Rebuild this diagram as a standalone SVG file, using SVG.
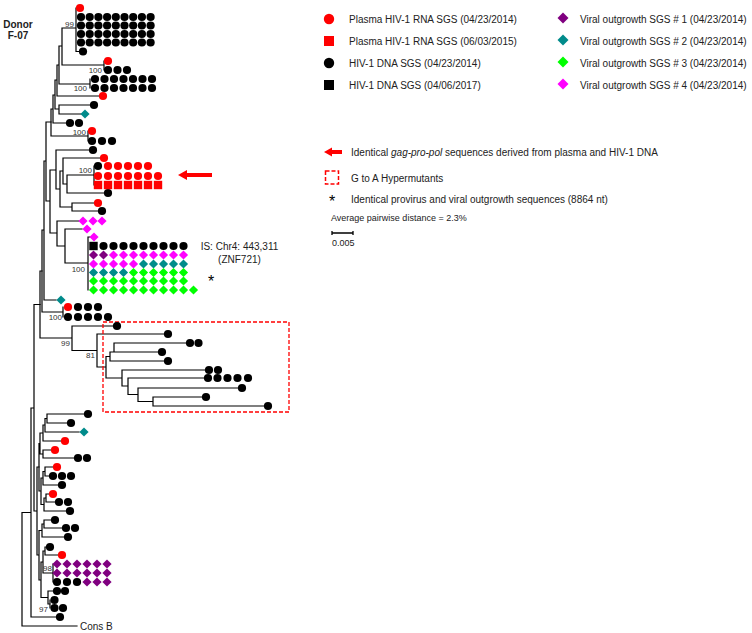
<svg xmlns="http://www.w3.org/2000/svg" width="752" height="633" viewBox="0 0 752 633">
<style>
.br{stroke:#000;stroke-width:1.2;fill:none;stroke-linecap:square}
.bs{font-family:"Liberation Sans",Arial,sans-serif;font-size:8px;fill:#333;text-anchor:end}
.lg{font-family:"Liberation Sans",Arial,sans-serif;font-size:10px;fill:#222}
.sm{font-family:"Liberation Sans",Arial,sans-serif;font-size:9px;fill:#222}
.ast{font-family:"Liberation Sans",Arial,sans-serif;font-size:16px;fill:#000;text-anchor:middle}
.dn{font-family:"Liberation Sans",Arial,sans-serif;font-size:10px;font-weight:bold;fill:#222;text-anchor:middle}
</style>
<defs>
<circle id="cR" r="4.1" fill="#ff0000"/>
<circle id="cK" r="4.1" fill="#000000"/>
<rect id="sR" x="-4.2" y="-4.2" width="8.4" height="8.4" fill="#ff0000"/>
<rect id="sK" x="-4.2" y="-4.2" width="8.4" height="8.4" fill="#000000"/>
<path id="dP" d="M0,-4.6L4.6,0L0,4.6L-4.6,0Z" fill="#800080"/>
<path id="dT" d="M0,-4.6L4.6,0L0,4.6L-4.6,0Z" fill="#008b8b"/>
<path id="dG" d="M0,-4.6L4.6,0L0,4.6L-4.6,0Z" fill="#00ff00"/>
<path id="dM" d="M0,-4.6L4.6,0L0,4.6L-4.6,0Z" fill="#ff00ff"/>
</defs>
<rect width="752" height="633" fill="#fff"/>

<g id="title">
<text class="dn" x="18" y="28">Donor</text>
<text class="dn" x="18" y="39">F-07</text>
</g>

<g id="branches" class="br">
<path d="M76,8V51.5M76,51.5H79M62,28H76M62,28V65M62,65H104M104,61V70M90,79V88M59,46H62M59,46V84M59,84H90M57,65H59M57,65V96M57,96H99M59,105V114M59,105H90M59,114H81M55,80H57M55,80V109M55,109H59M53,95H55M53,95V123M53,123H66M88,131V141M51,109H53M51,109V136M51,136H88"/>
<path d="M94,166V185M67,175H94M67,175V193M67,193H104M63,158H100M63,158V184M63,184H67M72,203H94M72,203V211M72,211H98M60,171H63M60,171V207M60,207H72M56,150H89M56,150V189M56,189H60M88,237H90M88,237V290M65,229H82M65,229V263M65,263H88M57,221H79M57,221V246M57,246H65M50,170H56M50,170V233M50,233H57M46,122H51M46,122V201M46,201H50M44,161H46M44,161V300M44,300H56M63,307V317M42,230H44M42,230V312M42,312H63"/>
<path d="M72,326H113M72,326V350.5M72,350.5H97M97,334H164M97,334V367M97,367H106M106,356.5H110M106,356.5V378M106,378H122M110,352H114M110,352V361M110,361H164M114,343H186M114,343V352M114,352H158M122,370H205M122,370V386M122,386H128M128,378H204M128,378V394.5M128,394.5H138M138,388H238M138,388V401.5M138,401.5H153M153,397H202M153,397V406M153,406H264M40,271H42M40,271V338M40,338H72"/>
<path d="M47,414H84M47,414V423M47,423H67M45,418.5H47M45,418.5V432M45,432H79M43,425H45M43,425V441M43,441H61M43,450H51M43,450V458M43,458H74M40,433H43M40,433V454M40,454H43M45,467H53M45,467V476M45,476H49M43,471.5H45M43,471.5V485M43,485H58M46,494H49M46,494V502M46,502H55M44,498H46M44,498V511M44,511H66M41,478H43M41,478V504.5M41,504.5H44M39,443.5H40M39,443.5V491M39,491H41"/>
<path d="M44,520H51M44,520V528M44,528H62M42,524H44M42,524V537M42,537H64M45,547H46M45,547V555M45,555H58M53,564V582M43,551H45M43,551V573M43,573H53M50,600V608M48,591H53M48,591V604M48,604H50M41,562H43M41,562V597.5M41,597.5H48M39,530.5H42M39,530.5V580M39,580H41M37,467H39M37,467V555M37,555H39M34,304.5H40M34,304.5V511M34,511H37M31,408H34M31,408V617M31,617H56M22,512.5H31M22,512.5V626M22,626H77"/>
</g>

<g id="bootstrap">
<text class="bs" x="74" y="27">99</text>
<text class="bs" x="102" y="73">100</text>
<text class="bs" x="87" y="91">100</text>
<text class="bs" x="86" y="135">100</text>
<text class="bs" x="92" y="173">100</text>
<text class="bs" x="85" y="272">100</text>
<text class="bs" x="62" y="320">100</text>
<text class="bs" x="70" y="346">99</text>
<text class="bs" x="95" y="358">81</text>
<text class="bs" x="52" y="571">98</text>
<text class="bs" x="48" y="612">97</text>
</g>

<g id="clade-top">
<use href="#cR" x="80" y="8"/>
<use href="#cK" x="81" y="17"/><use href="#cK" x="89.7" y="17"/><use href="#cK" x="98.4" y="17"/><use href="#cK" x="107.1" y="17"/><use href="#cK" x="115.8" y="17"/><use href="#cK" x="124.5" y="17"/><use href="#cK" x="133.2" y="17"/><use href="#cK" x="141.9" y="17"/><use href="#cK" x="150.6" y="17"/>
<use href="#cK" x="81" y="25.5"/><use href="#cK" x="89.7" y="25.5"/><use href="#cK" x="98.4" y="25.5"/><use href="#cK" x="107.1" y="25.5"/><use href="#cK" x="115.8" y="25.5"/><use href="#cK" x="124.5" y="25.5"/><use href="#cK" x="133.2" y="25.5"/><use href="#cK" x="141.9" y="25.5"/><use href="#cK" x="150.6" y="25.5"/>
<use href="#cK" x="81" y="34"/><use href="#cK" x="89.7" y="34"/><use href="#cK" x="98.4" y="34"/><use href="#cK" x="107.1" y="34"/><use href="#cK" x="115.8" y="34"/><use href="#cK" x="124.5" y="34"/><use href="#cK" x="133.2" y="34"/><use href="#cK" x="141.9" y="34"/><use href="#cK" x="150.6" y="34"/>
<use href="#cK" x="81" y="42.5"/><use href="#cK" x="89.7" y="42.5"/><use href="#cK" x="98.4" y="42.5"/><use href="#cK" x="107.1" y="42.5"/><use href="#cK" x="115.8" y="42.5"/><use href="#cK" x="124.5" y="42.5"/><use href="#cK" x="133.2" y="42.5"/><use href="#cK" x="141.9" y="42.5"/><use href="#cK" x="150.6" y="42.5"/>
<use href="#cK" x="83" y="51.5"/>
</g>

<g id="clade-100a">
<use href="#cR" x="108" y="61"/>
<use href="#cK" x="108" y="70"/><use href="#cK" x="117.5" y="70"/><use href="#cK" x="127" y="70"/>
</g>

<g id="clade-100b">
<use href="#cK" x="95" y="79"/><use href="#cK" x="104.5" y="79"/><use href="#cK" x="114" y="79"/><use href="#cK" x="123.5" y="79"/><use href="#cK" x="133" y="79"/><use href="#cK" x="142.5" y="79"/><use href="#cK" x="152" y="79"/>
<use href="#cK" x="95" y="88"/><use href="#cK" x="104.5" y="88"/><use href="#cK" x="114" y="88"/><use href="#cK" x="123.5" y="88"/><use href="#cK" x="133" y="88"/><use href="#cK" x="142.5" y="88"/><use href="#cK" x="152" y="88"/>
</g>

<g id="leaves-upper">
<use href="#cR" x="103" y="96"/>
<use href="#cK" x="94" y="105"/>
<use href="#dT" x="85" y="114"/>
<use href="#cK" x="70" y="123"/><use href="#cK" x="79" y="123"/>
</g>

<g id="clade-100c">
<use href="#cR" x="92" y="131"/>
<use href="#cK" x="92" y="141"/><use href="#cK" x="102" y="141"/><use href="#cK" x="112" y="141"/>
</g>

<g id="leaves-mid">
<use href="#cK" x="93" y="150"/>
<use href="#cR" x="104" y="158"/>
<use href="#cK" x="108" y="193"/>
<use href="#cR" x="98" y="203"/>
<use href="#cK" x="102" y="211"/>
<use href="#dM" x="83" y="221"/><use href="#dM" x="93" y="221"/><use href="#dM" x="102" y="221"/>
<use href="#dM" x="87" y="229"/>
<use href="#dT" x="61" y="300"/>
</g>

<g id="clade-plasma">
<use href="#cK" x="98" y="166"/><use href="#cR" x="108" y="166"/><use href="#cR" x="118" y="166"/><use href="#cR" x="128" y="166"/><use href="#cR" x="138" y="166"/><use href="#cR" x="148" y="166"/>
<use href="#cR" x="98" y="176"/><use href="#cR" x="108" y="176"/><use href="#cR" x="118" y="176"/><use href="#cR" x="128" y="176"/><use href="#cR" x="138" y="176"/><use href="#cR" x="148" y="176"/><use href="#cR" x="158" y="176"/>
<use href="#sR" x="98" y="185"/><use href="#sR" x="108" y="185"/><use href="#sR" x="118" y="185"/><use href="#sR" x="128" y="185"/><use href="#sR" x="138" y="185"/><use href="#sR" x="148" y="185"/><use href="#sR" x="158" y="185"/>
</g>

<g id="arrow-tree">
<polygon points="178,175 187,170 187,180" fill="#ff0000"/>
<rect x="185" y="173" width="27" height="4" fill="#ff0000"/>
</g>

<g id="clade-IS">
<use href="#dM" x="94" y="237"/>
<use href="#sK" x="93.5" y="246"/><use href="#cK" x="103.5" y="246"/><use href="#cK" x="113.5" y="246"/><use href="#cK" x="123.5" y="246"/><use href="#cK" x="133.5" y="246"/><use href="#cK" x="143.5" y="246"/><use href="#cK" x="153.5" y="246"/><use href="#cK" x="163.5" y="246"/><use href="#cK" x="173.5" y="246"/><use href="#cK" x="183.5" y="246"/>
<use href="#dP" x="93.5" y="255"/><use href="#dP" x="103.5" y="255"/><use href="#dM" x="113.5" y="255"/><use href="#dM" x="123.5" y="255"/><use href="#dM" x="133.5" y="255"/><use href="#dM" x="143.5" y="255"/><use href="#dM" x="153.5" y="255"/><use href="#dM" x="163.5" y="255"/><use href="#dM" x="173.5" y="255"/><use href="#dM" x="183.5" y="255"/>
<use href="#dM" x="93.5" y="264"/><use href="#dM" x="103.5" y="264"/><use href="#dM" x="113.5" y="264"/><use href="#dM" x="123.5" y="264"/><use href="#dM" x="133.5" y="264"/><use href="#dT" x="143.5" y="264"/><use href="#dT" x="153.5" y="264"/><use href="#dT" x="163.5" y="264"/><use href="#dT" x="173.5" y="264"/><use href="#dT" x="183.5" y="264"/>
<use href="#dT" x="93.5" y="272.5"/><use href="#dT" x="103.5" y="272.5"/><use href="#dT" x="113.5" y="272.5"/><use href="#dT" x="123.5" y="272.5"/><use href="#dG" x="133.5" y="272.5"/><use href="#dG" x="143.5" y="272.5"/><use href="#dG" x="153.5" y="272.5"/><use href="#dG" x="163.5" y="272.5"/><use href="#dG" x="173.5" y="272.5"/><use href="#dG" x="183.5" y="272.5"/>
<use href="#dG" x="93.5" y="281"/><use href="#dG" x="103.5" y="281"/><use href="#dG" x="113.5" y="281"/><use href="#dG" x="123.5" y="281"/><use href="#dG" x="133.5" y="281"/><use href="#dG" x="143.5" y="281"/><use href="#dG" x="153.5" y="281"/><use href="#dG" x="163.5" y="281"/><use href="#dG" x="173.5" y="281"/><use href="#dG" x="183.5" y="281"/>
<use href="#dG" x="93.5" y="290"/><use href="#dG" x="103.5" y="290"/><use href="#dG" x="113.5" y="290"/><use href="#dG" x="123.5" y="290"/><use href="#dG" x="133.5" y="290"/><use href="#dG" x="143.5" y="290"/><use href="#dG" x="153.5" y="290"/><use href="#dG" x="163.5" y="290"/><use href="#dG" x="173.5" y="290"/><use href="#dG" x="183.5" y="290"/><use href="#dG" x="193.5" y="290"/>
<text class="lg" x="239.5" y="249.5" text-anchor="middle">IS: Chr4: 443,311</text>
<text class="lg" x="239.5" y="262.5" text-anchor="middle">(ZNF721)</text>
<text class="ast" x="211" y="287">*</text>
</g>

<g id="clade-100d">
<use href="#cR" x="68" y="307"/><use href="#cK" x="78" y="307"/><use href="#cK" x="88" y="307"/><use href="#cK" x="98" y="307"/>
<use href="#cK" x="68" y="317"/><use href="#cK" x="78" y="317"/><use href="#cK" x="88" y="317"/><use href="#cK" x="98" y="317"/><use href="#cK" x="108" y="317"/>
</g>

<g id="clade-hypermutants">
<rect x="103" y="322" width="186" height="90" fill="none" stroke="#ff0000" stroke-width="1.3" stroke-dasharray="4,2"/>
<use href="#cK" x="117" y="326"/>
<use href="#cK" x="168" y="334"/>
<use href="#cK" x="190" y="343"/><use href="#cK" x="198.5" y="343"/>
<use href="#cK" x="162" y="352"/>
<use href="#cK" x="168" y="361"/>
<use href="#cK" x="209" y="370"/><use href="#cK" x="218" y="370"/>
<use href="#cK" x="208" y="378"/><use href="#cK" x="217.5" y="378"/><use href="#cK" x="227.5" y="378"/><use href="#cK" x="237.5" y="378"/><use href="#cK" x="248" y="378"/>
<use href="#cK" x="242" y="388"/>
<use href="#cK" x="206" y="397"/>
<use href="#cK" x="268" y="406"/>
</g>

<g id="leaves-lower">
<use href="#cK" x="88" y="414"/>
<use href="#cK" x="71" y="423"/>
<use href="#dT" x="84" y="432"/>
<use href="#cR" x="65" y="441"/>
<use href="#cR" x="55" y="450"/>
<use href="#cK" x="78" y="458"/><use href="#cK" x="87" y="458"/>
<use href="#cR" x="57" y="467"/>
<use href="#cK" x="53" y="476"/><use href="#cK" x="62" y="476"/><use href="#cK" x="71" y="476"/>
<use href="#cK" x="62" y="485"/>
<use href="#cR" x="53" y="494"/>
<use href="#cK" x="59" y="502"/><use href="#cK" x="68" y="502"/>
<use href="#cK" x="70" y="511"/>
<use href="#cK" x="55" y="520"/>
<use href="#cK" x="66" y="528"/><use href="#cK" x="75" y="528"/>
<use href="#cK" x="68" y="537"/>
<use href="#cK" x="50" y="547"/>
<use href="#cR" x="62" y="555"/>
<use href="#cK" x="57" y="591"/><use href="#cK" x="65" y="591"/>
<use href="#cK" x="54.5" y="600"/>
<use href="#cK" x="54.5" y="608"/><use href="#cK" x="63" y="608"/>
<use href="#cK" x="60" y="617"/>
</g>

<g id="clade-98">
<use href="#dP" x="57" y="564"/><use href="#dP" x="67" y="564"/><use href="#dP" x="77" y="564"/><use href="#dP" x="87" y="564"/><use href="#dP" x="97" y="564"/><use href="#dP" x="107" y="564"/>
<use href="#dP" x="57" y="573"/><use href="#dP" x="67" y="573"/><use href="#dP" x="77" y="573"/><use href="#dP" x="87" y="573"/><use href="#dP" x="97" y="573"/><use href="#dP" x="107" y="573"/>
<use href="#cK" x="57" y="582"/><use href="#cK" x="67" y="582"/><use href="#cK" x="77" y="582"/><use href="#dP" x="87" y="582"/><use href="#dP" x="97" y="582"/><use href="#dP" x="107" y="582"/>
</g>

<g id="outgroup">
<text class="lg" x="80" y="629.5">Cons B</text>
</g>

<g id="legend">
<circle cx="329" cy="19" r="5.2" fill="#ff0000"/>
<text class="lg" x="349" y="22.5">Plasma HIV-1 RNA SGS (04/23/2014)</text>
<rect x="324" y="36" width="10" height="10" fill="#ff0000"/>
<text class="lg" x="349" y="44.5">Plasma HIV-1 RNA SGS (06/03/2015)</text>
<circle cx="329" cy="63" r="5.2" fill="#000"/>
<text class="lg" x="349" y="66.5">HIV-1 DNA SGS (04/23/2014)</text>
<rect x="324" y="80" width="10" height="10" fill="#000"/>
<text class="lg" x="349" y="88.5">HIV-1 DNA SGS (04/06/2017)</text>
<path d="M563,12.5L568.5,18L563,23.5L557.5,18Z" fill="#800080"/>
<text class="lg" x="580" y="22.5">Viral outgrowth SGS # 1 (04/23/2014)</text>
<path d="M563,34.5L568.5,40L563,45.5L557.5,40Z" fill="#008b8b"/>
<text class="lg" x="580" y="44.5">Viral outgrowth SGS # 2 (04/23/2014)</text>
<path d="M563,56.5L568.5,62L563,67.5L557.5,62Z" fill="#00ff00"/>
<text class="lg" x="580" y="66.5">Viral outgrowth SGS # 3 (04/23/2014)</text>
<path d="M563,78.5L568.5,84L563,89.5L557.5,84Z" fill="#ff00ff"/>
<text class="lg" x="580" y="88.5">Viral outgrowth SGS # 4 (04/23/2014)</text>
<polygon points="324,152 332,147.5 332,156.5" fill="#ff0000"/>
<rect x="330" y="150" width="12" height="4" fill="#ff0000"/>
<text class="lg" x="351" y="155.5">Identical <tspan font-style="italic">gag-pro-pol</tspan> sequences derived from plasma and HIV-1 DNA</text>
<rect x="325.5" y="171" width="13" height="13" fill="none" stroke="#ff0000" stroke-width="1.5" stroke-dasharray="4,2"/>
<text class="lg" x="351" y="181.5">G to A Hypermutants</text>
<text class="ast" x="332" y="207">*</text>
<text class="lg" x="351" y="202.5">Identical provirus and viral outgrowth sequences (8864 nt)</text>
<text class="sm" x="331" y="221">Average pairwise distance = 2.3%</text>
<path d="M332,233H353M332,231V235M353,231V235" stroke="#000" stroke-width="1.3" fill="none"/>
<text class="sm" x="332" y="245.5">0.005</text>
</g>
</svg>
